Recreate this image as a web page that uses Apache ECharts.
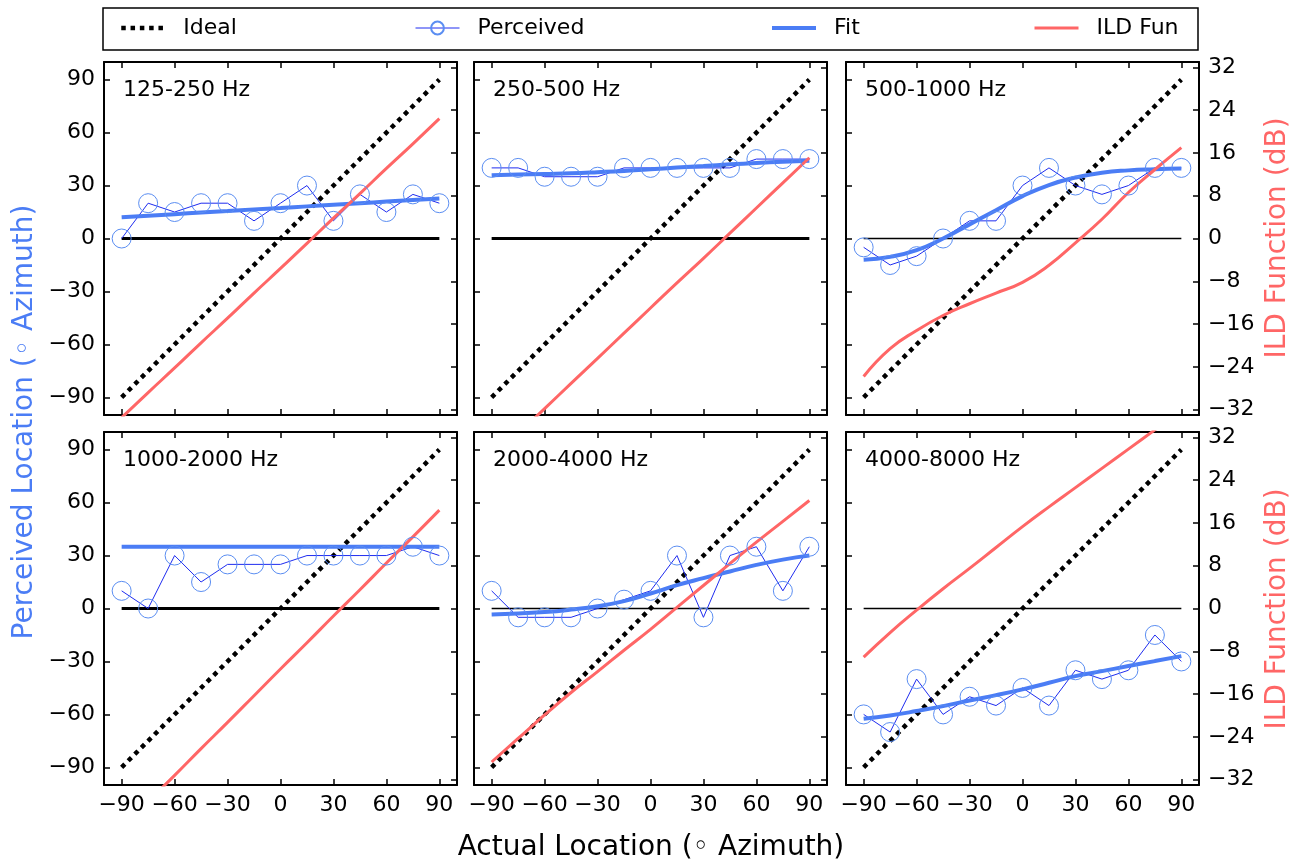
<!DOCTYPE html>
<html>
<head>
<meta charset="utf-8">
<script src="https://cdn.jsdelivr.net/npm/echarts@6/dist/echarts.min.js"></script>
<style>
html, body { margin: 0; padding: 0; background: #fff; }
#main { width: 1306px; height: 864px; }
</style>
</head>
<body>
<div id="main"></div>
<script>
var angles = [-90, -75, -60, -45, -30, -15, 0, 15, 30, 45, 60, 75, 90]
var bands = ['125-250 Hz', '250-500 Hz', '500-1000 Hz', '1000-2000 Hz', '2000-4000 Hz', '4000-8000 Hz']
var degTicks = [-90, -60, -30, 0, 30, 60, 90]
var dbTicks = [-32, -24, -16, -8, 0, 8, 16, 24, 32]
var idealX = [-90, 90]
var idealY = [-90, 90]
var zeroX = [-90, 90]
var zeroY = [0, 0]

// perceived location (deg)
var perc125 = [0, 20, 15, 20, 20, 10, 20, 30, 10, 25, 15, 25, 20]
var perc250 = [40, 40, 35, 35, 35, 40, 40, 40, 40, 40, 45, 45, 45]
var perc500 = [-5, -15, -10, 0, 10, 10, 30, 40, 30, 25, 30, 40, 40]
var perc1000 = [10, 0, 30, 15, 25, 25, 25, 30, 30, 30, 30, 35, 30]
var perc2000 = [10, -5, -5, -5, 0, 5, 10, 30, -5, 30, 35, 10, 35]
var perc4000 = [-60, -70, -40, -60, -50, -55, -45, -55, -35, -40, -35, -15, -30]

// fitted curve (deg)
var fit125 = [12, 12.9, 13.8, 14.7, 15.6, 16.5, 17.3, 18.2, 19.1, 20, 20.9, 21.8, 22.7]
var fit250 = [35.8, 36.2, 36.6, 37, 37.6, 38.3, 39.2, 40.2, 41.1, 42, 42.8, 43.5, 44.1]
var fit500 = [-12, -10.4, -6.6, 0, 8, 16, 24, 30.3, 34.5, 37.3, 38.6, 39.2, 39.6]
var fit1000 = [35, 35, 35, 35, 35, 35, 35, 35, 35, 35, 35, 35, 35]
var fit2000 = [-3.4, -2.8, -2, -0.6, 1.3, 4.2, 8.5, 13.2, 17.2, 21, 24.7, 27.7, 30]
var fit4000 = [-62.5, -60.6, -58.1, -55.3, -52.1, -49.1, -45.8, -42.1, -38.3, -35.5, -32.6, -29.8, -27]

// ILD function (dB)
var ild125 = [-33.5, -28.8, -24.2, -19.5, -14.9, -10.2, -5.6, -0.9, 3.8, 8.4, 13.1, 17.7, 22.4]
var ild250 = [-41.2, -36.5, -31.8, -27.1, -22.4, -17.7, -13, -8.3, -3.7, 1, 5.7, 10.4, 15.1]
var ild500 = [-25.8, -20.6, -17.2, -14.4, -12.2, -10.2, -8.2, -5, -0.8, 3.6, 8.6, 12.9, 17]
var ild1000 = [-41.1, -36.1, -31.2, -26.2, -21.3, -16.3, -11.3, -6.4, -1.4, 3.5, 8.5, 13.4, 18.4]
var ild2000 = [-28.7, -24.3, -19.9, -15.7, -11.8, -7.8, -3.9, 0.2, 4.3, 8.4, 12.4, 16.3, 20.2]
var ild4000 = [-9.1, -4.5, -0.3, 3.7, 7.5, 11.4, 15.3, 19, 22.6, 26.2, 29.8, 33.4, 37]

var perceived = [perc125, perc250, perc500, perc1000, perc2000, perc4000]
var fits = [fit125, fit250, fit500, fit1000, fit2000, fit4000]
var ilds = [ild125, ild250, ild500, ild1000, ild2000, ild4000]

var FONT = '"DejaVu Sans", sans-serif'
var BLUE = '#4b7df5'
var RED = '#ff6666'
var colLeft = [104, 474, 846]
var rowTop = [62, 432]
var size = 353
var zeroWidth = [3, 3, 1.5, 3, 1.5, 1.5]

var pairs = function(xs, ys) {
    var out = []
    for (var i = 0; i < xs.length; i++) {
        out.push([xs[i], ys[i]])
    }
    return out
}

var fmt = function(v) {
    return String(v).replace('-', '\u2212')
}

var tickLabel = function(show, ticks, margin) {
    return {
        show: show,
        customValues: ticks,
        formatter: fmt,
        margin: margin,
        fontSize: 22,
        fontFamily: FONT,
        color: '#000'
    }
}

var tickLine = function(ticks) {
    return {
        inside: true,
        length: 6,
        customValues: ticks,
        lineStyle: {color: '#000', width: 1.5}
    }
}

var frame = {onZero: false, lineStyle: {color: '#000', width: 2}}

var grids = [], xAxes = [], yAxes = [], series = [], titles = []

for (var i = 0; i < 6; i++) {
    var r = Math.floor(i / 3)
    var c = i % 3
    grids.push({
        left: colLeft[c], top: rowTop[r], width: size, height: size,
        outerBoundsMode: 'none', containLabel: false
    })
    xAxes.push({
        gridIndex: i, type: 'value', min: -100, max: 100, position: 'bottom',
        axisLine: frame, axisTick: tickLine(degTicks),
        axisLabel: tickLabel(r === 1, degTicks, 9), splitLine: {show: false}
    })
    xAxes.push({
        gridIndex: i, type: 'value', min: -100, max: 100, position: 'top',
        axisLine: frame, axisTick: tickLine(degTicks),
        axisLabel: {show: false}, splitLine: {show: false}
    })
    yAxes.push({
        gridIndex: i, type: 'value', min: -100, max: 100, position: 'left',
        axisLine: frame, axisTick: tickLine(degTicks),
        axisLabel: tickLabel(c === 0, degTicks, 9), splitLine: {show: false}
    })
    yAxes.push({
        gridIndex: i, type: 'value', min: -33, max: 33, position: 'right',
        axisLine: frame, axisTick: tickLine(dbTicks),
        axisLabel: tickLabel(c === 2, dbTicks, 9), splitLine: {show: false}
    })

    titles.push({
        text: bands[i], left: colLeft[c] + 19, top: rowTop[r] + 17, padding: 0,
        textStyle: {fontSize: 22, fontWeight: 'normal', fontFamily: FONT, color: '#000'}
    })

    series.push({
        name: 'zero', type: 'line', xAxisIndex: 2 * i, yAxisIndex: 2 * i,
        data: pairs(zeroX, zeroY), symbol: 'none', silent: true,
        lineStyle: {color: '#000', width: zeroWidth[i]}
    })
    series.push({
        name: 'Ideal', type: 'line', xAxisIndex: 2 * i, yAxisIndex: 2 * i,
        data: pairs(idealX, idealY), symbol: 'none',
        itemStyle: {color: '#000'},
        lineStyle: {color: '#000', width: 4.5, type: [4.5, 4.8], cap: 'butt'}
    })
    series.push({
        name: 'Perceived', type: 'line', xAxisIndex: 2 * i, yAxisIndex: 2 * i,
        data: pairs(angles, perceived[i]), symbol: 'circle', symbolSize: 19,
        itemStyle: {color: 'rgba(0,0,0,0)', borderColor: '#5b8ef2', borderWidth: 1},
        lineStyle: {color: '#1f2cf0', width: 1}
    })
    series.push({
        name: 'Fit', type: 'line', xAxisIndex: 2 * i, yAxisIndex: 2 * i,
        data: pairs(angles, fits[i]), symbol: 'none', smooth: true,
        itemStyle: {color: BLUE},
        lineStyle: {color: BLUE, width: 4}
    })
    series.push({
        name: 'ILD Fun', type: 'line', xAxisIndex: 2 * i, yAxisIndex: 2 * i + 1,
        data: pairs(angles, ilds[i]), symbol: 'none', smooth: true,
        itemStyle: {color: RED},
        lineStyle: {color: RED, width: 3}
    })
}

var legendItem = function(name, left, hideSymbol, lineWidth) {
    var item = {
        data: [name], left: left, top: 17, padding: 0,
        itemWidth: 44, itemHeight: 16, selectedMode: false,
        lineStyle: {width: lineWidth},
        textStyle: {fontSize: 22, fontFamily: FONT, color: '#000', padding: [0, 0, 0, 13]}
    }
    if (hideSymbol) {
        item.itemStyle = {opacity: 0}
    }
    return item
}

var option = {
    animation: false,
    backgroundColor: '#fff',
    title: titles,
    legend: [
        legendItem('Ideal', 119, true, 4.5),
        legendItem('Perceived', 415, false, 1),
        legendItem('Fit', 770, true, 4),
        legendItem('ILD Fun', 1033, true, 3)
    ],
    grid: grids,
    xAxis: xAxes,
    yAxis: yAxes,
    series: series,
    graphic: [
        {
            type: 'rect', shape: {x: 103, y: 8, width: 1095, height: 42},
            style: {fill: 'none', stroke: '#000', lineWidth: 1.5}
        },
        {
            type: 'text', x: 25, y: 422, rotation: Math.PI / 2,
            style: {text: 'Perceived Location (\u25e6 Azimuth)', fill: BLUE, font: '28px ' + FONT, align: 'center', verticalAlign: 'middle'}
        },
        {
            type: 'text', x: 1278, y: 238, rotation: Math.PI / 2,
            style: {text: 'ILD Function (dB)', fill: RED, font: '28px ' + FONT, align: 'center', verticalAlign: 'middle'}
        },
        {
            type: 'text', x: 1278, y: 609, rotation: Math.PI / 2,
            style: {text: 'ILD Function (dB)', fill: RED, font: '28px ' + FONT, align: 'center', verticalAlign: 'middle'}
        },
        {
            type: 'text', x: 651, y: 848,
            style: {text: 'Actual Location (\u25e6 Azimuth)', fill: '#000', font: '28px ' + FONT, align: 'center', verticalAlign: 'middle'}
        }
    ]
}

var element = document.querySelector('#main')
var myChart = echarts.init(element)
myChart.setOption(option)
</script>
</body>
</html>
